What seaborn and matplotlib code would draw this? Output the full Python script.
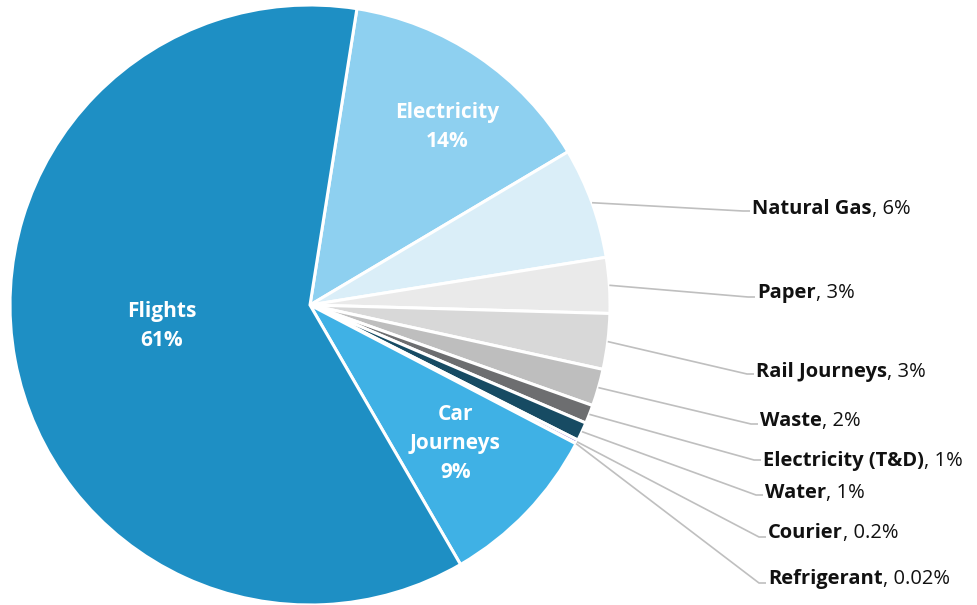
import matplotlib
matplotlib.use("Agg")
import matplotlib.pyplot as plt
import numpy as np
import seaborn as sns

# Emission sources, clockwise from just right of 12 o'clock
categories = ["Electricity", "Natural Gas", "Paper", "Rail Journeys", "Waste",
              "Electricity (T&D)", "Water", "Courier", "Refrigerant",
              "Car Journeys", "Flights"]
shares = [14, 6, 3, 3, 2, 1, 1, 0.2, 0.02, 9, 61]
share_text = ["14%", "6%", "3%", "3%", "2%", "1%", "1%", "0.2%", "0.02%", "9%", "61%"]
colors = ["#8ED0F0", "#DAEEF8", "#EAEAEA", "#D8D8D8", "#BEBEBE",
          "#6D6E70", "#174B63", "#A08CD8", "#7F7F7F", "#3FB1E5", "#1E8FC4"]

# Labels drawn inside the big slices: radial fraction, angular nudge (deg), text
inside = {"Electricity": (0.75, -3.5, "Electricity\n14%"),
          "Car Journeys": (0.67, 0.0, "Car\nJourneys\n9%"),
          "Flights": (0.50, -2.5, "Flights\n61%")}

# Right-hand callout column (pixel layout, y measured from the top)
callout_x = [752, 757, 756, 760, 763, 765, 768, 768]
callout_base = [214, 298, 377, 426, 466, 498, 538, 584]
leader_y = [211, 297, 374, 424, 460, 495, 537, 583]

sns.set_theme(style="white")
plt.rcParams["font.family"] = ["Open Sans", "DejaVu Sans"]

W, H = 978, 605
fig = plt.figure(figsize=(W / 100, H / 100), dpi=100)
ax = fig.add_axes([0, 0, 1, 1])

cx, cy, R = 310, H - 305, 300
wedges, _ = ax.pie(shares, colors=colors, startangle=81, counterclock=False,
                   center=(cx, cy), radius=R,
                   wedgeprops=dict(edgecolor="white", linewidth=2.2))
ax.set_xlim(0, W)
ax.set_ylim(0, H)
ax.set_aspect("equal")
ax.axis("off")

fs_out, fs_in = 14.5, 15
renderer = fig.canvas.get_renderer()
to_data = ax.transData.inverted()
outer = [c for c in categories if c not in inside]
for i, (cat, w) in enumerate(zip(categories, wedges)):
    mid = np.deg2rad((w.theta1 + w.theta2) / 2)
    if cat in inside:
        frac, nudge, txt = inside[cat]
        a = mid + np.deg2rad(nudge)
        ax.text(cx + frac * R * np.cos(a), cy + frac * R * np.sin(a), txt,
                ha="center", va="center", color="white", fontsize=fs_in,
                fontweight="bold", linespacing=1.5)
        continue
    k = outer.index(cat)
    sx, sy = cx + R * np.cos(mid), cy + R * np.sin(mid)
    tx, ty = callout_x[k], H - callout_base[k]
    ly = H - leader_y[k]
    ax.plot([sx, tx - 9, tx - 2], [sy, ly, ly], color="#BFBFBF", lw=1.2,
            solid_capstyle="butt", zorder=1)
    t = ax.text(tx, ty, cat, ha="left", va="baseline", fontsize=fs_out,
                fontweight="bold", color="#111111")
    x_end = to_data.transform((t.get_window_extent(renderer).x1, 0))[0]
    ax.text(x_end, ty, ", " + share_text[i], ha="left", va="baseline",
            fontsize=fs_out, color="#111111")

fig.savefig("out.png", dpi=100, facecolor="white")
